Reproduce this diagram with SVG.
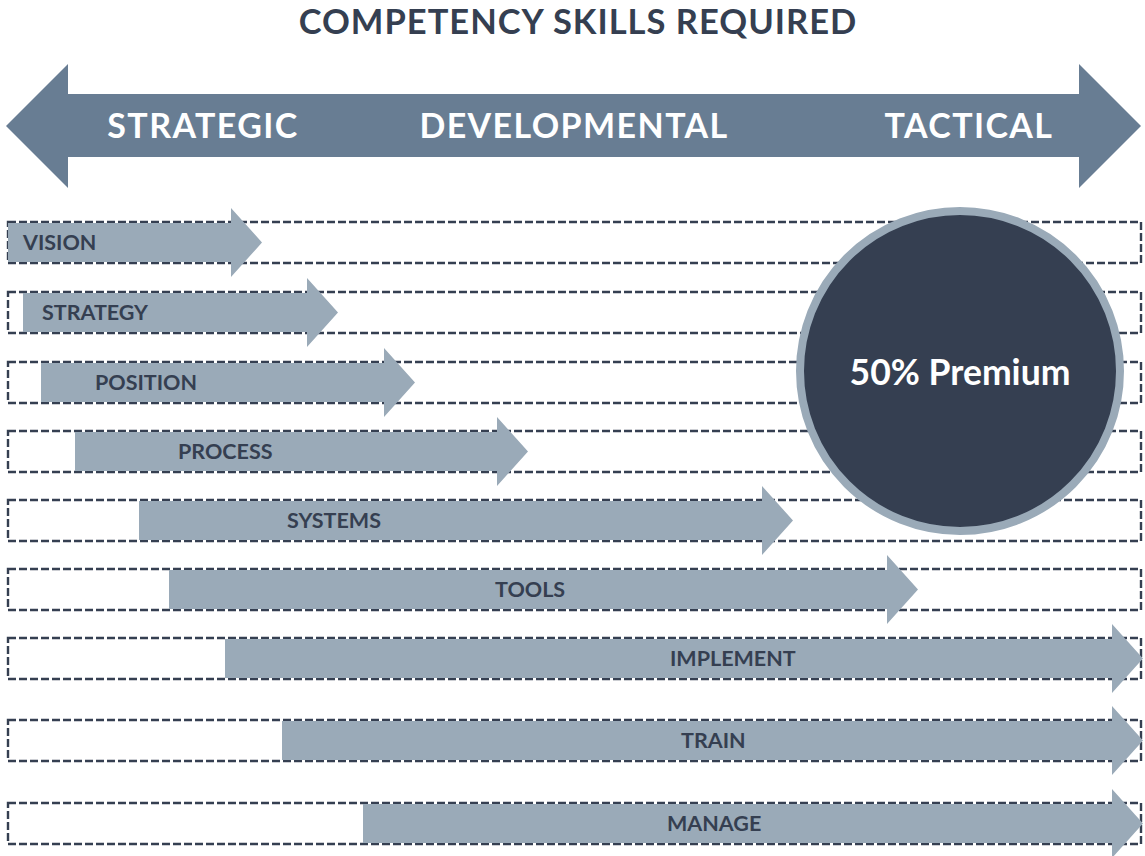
<svg xmlns="http://www.w3.org/2000/svg" width="1145" height="856" viewBox="0 0 1145 856">
<style>
.row{fill:#ffffff;stroke:#353f51;stroke-width:2.4;stroke-dasharray:8 3}
.arr{fill:#9aaab8}
.lbl{font-family:Lato,"Liberation Sans",sans-serif;font-weight:700;font-size:21.5px;fill:#353f51}
.ban{font-family:Lato,"Liberation Sans",sans-serif;font-weight:700;font-size:34px;letter-spacing:1.4px;fill:#ffffff}
</style>
<rect width="1145" height="856" fill="#ffffff"/>
<text x="578" y="34" text-anchor="middle" style="font-family:Lato,'Liberation Sans',sans-serif;font-weight:700;font-size:34.5px;letter-spacing:1px;fill:#353f51">COMPETENCY SKILLS REQUIRED</text>
<g id="banner">
<path d="M6 126 L68 64 V94 H1079 V64 L1141 126 L1079 188 V157 H68 V188 Z" fill="#687d93"/>
<text class="ban" x="203" y="138" text-anchor="middle">STRATEGIC</text>
<text class="ban" x="574" y="138" text-anchor="middle">DEVELOPMENTAL</text>
<text class="ban" x="969" y="138" text-anchor="middle">TACTICAL</text>
</g>
<g id="rows">
<rect class="row" x="8" y="222" width="1133" height="41"/>
<rect class="row" x="8" y="292" width="1133" height="41"/>
<rect class="row" x="8" y="362" width="1133" height="41"/>
<rect class="row" x="8" y="431" width="1133" height="41"/>
<rect class="row" x="8" y="500" width="1133" height="41"/>
<rect class="row" x="8" y="569" width="1133" height="41"/>
<rect class="row" x="8" y="638" width="1133" height="41"/>
<rect class="row" x="8" y="720" width="1133" height="41"/>
<rect class="row" x="8" y="803" width="1133" height="41"/>
</g>
<g id="vision"><path class="arr" d="M8 223 H231 V208 L262 242.5 L231 277 V262 H8 Z"/><text class="lbl" x="23" y="250">VISION</text></g>
<g id="strategy"><path class="arr" d="M23 293 H307 V278 L338 312.5 L307 347 V332 H23 Z"/><text class="lbl" x="42" y="320">STRATEGY</text></g>
<g id="position"><path class="arr" d="M41 363 H384 V348 L415 382.5 L384 417 V402 H41 Z"/><text class="lbl" x="95" y="390">POSITION</text></g>
<g id="process"><path class="arr" d="M75 432 H497 V417 L528 451.5 L497 486 V471 H75 Z"/><text class="lbl" x="178" y="459">PROCESS</text></g>
<g id="systems"><path class="arr" d="M139 501 H762 V486 L793 520.5 L762 555 V540 H139 Z"/><text class="lbl" x="287" y="528">SYSTEMS</text></g>
<g id="tools"><path class="arr" d="M169 570 H887 V555 L918 589.5 L887 624 V609 H169 Z"/><text class="lbl" x="495" y="597">TOOLS</text></g>
<g id="implement"><path class="arr" d="M225 639 H1112 V624 L1143 658.5 L1112 693 V678 H225 Z"/><text class="lbl" x="670" y="666">IMPLEMENT</text></g>
<g id="train"><path class="arr" d="M282 721 H1112 V706 L1143 740.5 L1112 775 V760 H282 Z"/><text class="lbl" x="681" y="748">TRAIN</text></g>
<g id="manage"><path class="arr" d="M363 804 H1112 V789 L1143 823.5 L1112 858 V843 H363 Z"/><text class="lbl" x="667" y="831">MANAGE</text></g>
<g id="premium">
<circle cx="960" cy="371" r="160" fill="#353f51" stroke="#9aaab8" stroke-width="8"/>
<text x="960" y="385" text-anchor="middle" style="font-family:Lato,'Liberation Sans',sans-serif;font-weight:700;font-size:35.5px;fill:#ffffff">50% Premium</text>
</g>
<g id="connectors"/>
</svg>
